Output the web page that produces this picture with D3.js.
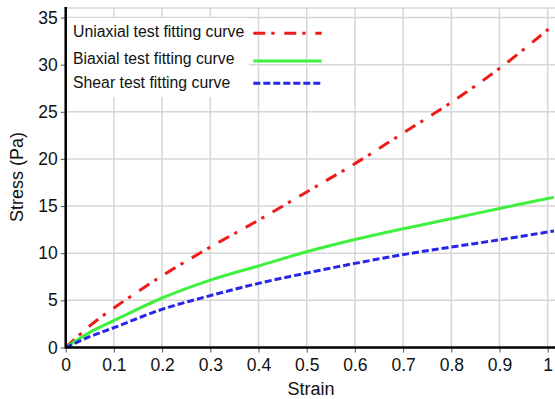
<!DOCTYPE html>
<html>
<head>
<meta charset="utf-8">
<script src="https://cdn.jsdelivr.net/npm/d3@7/dist/d3.min.js"></script>
<style>
  html, body { margin: 0; padding: 0; background: #fff; }
  svg { display: block; font-family: "Liberation Sans", Arial, sans-serif; }
</style>
</head>
<body>
<svg id="chart" width="555" height="399"></svg>
<script>
// Strain values where the fitted stress curves are sampled
const strain = [0, 0.05, 0.1, 0.2, 0.3, 0.4, 0.5, 0.6, 0.7, 0.8, 0.9, 1.0, 1.013];

// Fitted stress (Pa) for each test
const uniaxial = [0, 2.3, 4.2, 7.6, 10.65, 13.5, 16.5, 19.5, 22.75, 26.0, 29.6, 33.7, 34.25];
const biaxial  = [0, 1.6, 2.85, 5.25, 7.15, 8.65, 10.15, 11.45, 12.6, 13.65, 14.75, 15.8, 15.95];
const shear    = [0, 1.15, 2.1, 4.05, 5.5, 6.8, 7.9, 8.92, 9.85, 10.65, 11.42, 12.25, 12.35];

const seriesNames = ["Uniaxial test fitting curve", "Biaxial test fitting curve", "Shear test fitting curve"];

const xTicks = [0, 0.1, 0.2, 0.3, 0.4, 0.5, 0.6, 0.7, 0.8, 0.9, 1];
const yTicks = [0, 5, 10, 15, 20, 25, 30, 35];
const yTop = 36;

const svg = d3.select("#chart");
const W = 555;

const x = d3.scaleLinear().domain([0, 1]).range([65.7, 547.7]);
const y = d3.scaleLinear().domain([0, 35]).range([347.5, 17.5]);

const gridColor = "#d6d6d6";

// grid
const grid = svg.append("g");
grid.selectAll("line.v").data(xTicks.slice(1)).join("line")
  .attr("x1", d => x(d)).attr("x2", d => x(d))
  .attr("y1", y(yTop)).attr("y2", y(0))
  .attr("stroke", gridColor).attr("stroke-width", 1.5);
grid.selectAll("line.h").data(yTicks.slice(1).concat([yTop])).join("line")
  .attr("x1", x(0)).attr("x2", W)
  .attr("y1", d => y(d)).attr("y2", d => y(d))
  .attr("stroke", gridColor).attr("stroke-width", 1.5);

// curves
const styles = [
  { data: uniaxial, color: "#ee1b1b", dash: "12,6,3.3,9.7" },
  { data: biaxial,  color: "#3ff03f", dash: null },
  { data: shear,    color: "#2626e8", dash: "7,3" }
];

const line = d3.line()
  .x(d => x(d[0]))
  .y(d => y(d[1]))
  .curve(d3.curveCatmullRom.alpha(0.5));

svg.append("defs").append("clipPath").attr("id", "plotclip")
  .append("rect").attr("x", x(0)).attr("y", y(yTop)).attr("width", W - x(0)).attr("height", y(0) - y(yTop));

const curves = svg.append("g").attr("clip-path", "url(#plotclip)");
styles.forEach(s => {
  curves.append("path")
    .datum(strain.map((v, i) => [v, s.data[i]]))
    .attr("d", line)
    .attr("fill", "none")
    .attr("stroke", s.color)
    .attr("stroke-width", 3)
    .attr("stroke-dasharray", s.dash);
});

// legend
const legend = svg.append("g");
legend.append("rect")
  .attr("x", x(0) + 1).attr("y", 18).attr("width", 182).attr("height", 79)
  .attr("fill", "#fff");
const legendRows = [36.5, 64.3, 88.3];
const legendLineY = [33.3, 61, 83.3];
seriesNames.forEach((name, i) => {
  legend.append("text")
    .attr("x", 73).attr("y", legendRows[i])
    .attr("font-size", 15.8).attr("fill", "#111")
    .text(name);
  legend.append("line")
    .attr("x1", 253.3).attr("x2", 321.7)
    .attr("y1", legendLineY[i]).attr("y2", legendLineY[i])
    .attr("stroke", styles[i].color).attr("stroke-width", 3)
    .attr("stroke-dasharray", styles[i].dash);
});

// axes
const xAxis = d3.axisBottom(x).tickValues(xTicks).tickSize(5).tickPadding(6)
  .tickFormat(d => d3.format("~g")(d));
const yAxis = d3.axisLeft(y).tickValues(yTicks).tickSize(5).tickPadding(3)
  .tickFormat(d3.format("d"));

const gx = svg.append("g").attr("transform", `translate(0,${y(0)})`).call(xAxis);
const gy = svg.append("g").attr("transform", `translate(${x(0)},0)`).call(yAxis);

[gx, gy].forEach(g => {
  g.select(".domain").remove();
  g.selectAll(".tick line").attr("stroke", "#555").attr("stroke-width", 1);
  g.selectAll(".tick text").attr("font-size", 17.5).attr("fill", "#111")
    .attr("font-family", "\"Liberation Sans\", Arial, sans-serif");
});

svg.append("line")
  .attr("x1", x(0)).attr("x2", W).attr("y1", y(0)).attr("y2", y(0))
  .attr("stroke", "#000").attr("stroke-width", 2.5);
svg.append("line")
  .attr("x1", x(0)).attr("x2", x(0)).attr("y1", y(yTop) - 1).attr("y2", y(0) + 1)
  .attr("stroke", "#000").attr("stroke-width", 2.5);

// axis titles
svg.append("text")
  .attr("x", 311).attr("y", 394.5)
  .attr("text-anchor", "middle").attr("font-size", 18).attr("fill", "#111")
  .text("Strain");
svg.append("text")
  .attr("transform", "translate(23,177) rotate(-90)")
  .attr("text-anchor", "middle").attr("font-size", 18).attr("fill", "#111")
  .text("Stress (Pa)");
</script>
</body>
</html>
